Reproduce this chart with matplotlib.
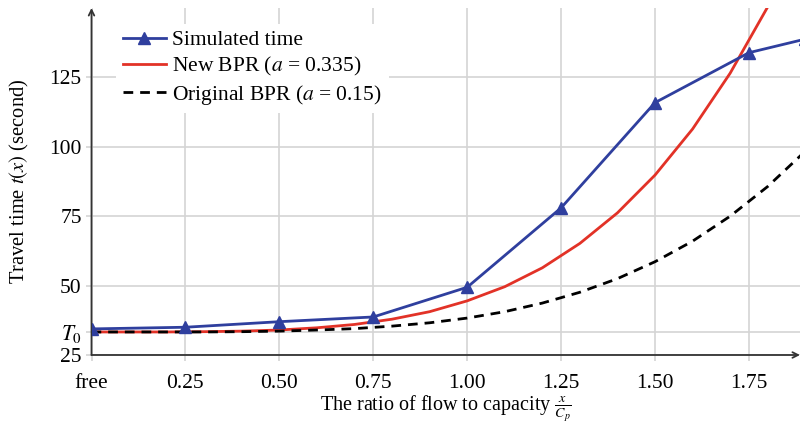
'''
Travel time vs. flow/capacity ratio: simulated vs. BPR curves
'''
import matplotlib
matplotlib.use('Agg')
import matplotlib.pyplot as plt

# Simulated travel time
sim_x = [0.0, 0.25, 0.50, 0.75, 1.00, 1.25, 1.50, 1.75, 1.90]
sim_t = [34.4, 35.0, 37.0, 38.7, 49.4, 78.0, 115.9, 133.9, 138.8]

# BPR curves, sampled every 0.1
bpr_x = [0.0, 0.1, 0.2, 0.3, 0.4, 0.5, 0.6, 0.7, 0.8, 0.9,
         1.0, 1.1, 1.2, 1.3, 1.4, 1.5, 1.6, 1.7, 1.8, 1.9]
new_bpr = [33.3, 33.3, 33.3, 33.4, 33.6, 34.0, 34.8, 36.0, 37.9, 40.6,
           44.5, 49.6, 56.4, 65.2, 76.2, 89.8, 106.4, 126.5, 150.4, 178.7]
orig_bpr = [33.3, 33.3, 33.3, 33.3, 33.4, 33.6, 34.0, 34.5, 35.4, 36.6,
            38.3, 40.6, 43.7, 47.6, 52.5, 58.6, 66.0, 75.0, 85.7, 98.4]

T0 = 33.3
y_ticks = [25, T0, 50, 75, 100, 125]
y_labels = ['25', '$T_0$', '50', '75', '100', '125']
x_ticks = [0, 0.25, 0.5, 0.75, 1.0, 1.25, 1.5, 1.75]
x_labels = ['free', '0.25', '0.50', '0.75', '1.00', '1.25', '1.50', '1.75']

plt.rcParams['font.family'] = ['Liberation Serif', 'DejaVu Serif']
plt.rcParams['mathtext.fontset'] = 'stix'

fig = plt.figure(figsize=(8, 4.28), dpi=100)
ax = fig.add_axes([91.5 / 800, 73 / 428, (800 - 91.5) / 800, 347 / 428])

ax.plot(sim_x, sim_t, color='#2f3f9e', lw=2, marker='^', markersize=8,
        label='Simulated time', zorder=4)
ax.plot(bpr_x, new_bpr, color='#e23227', lw=2,
        label='New BPR ($a$ = 0.335)', zorder=3)
ax.plot(bpr_x, orig_bpr, color='black', lw=2, ls=(0, (3.5, 2.5)),
        label='Original BPR ($a$ = 0.15)', zorder=3)

ax.set_xlim(0, 1.886)
ax.set_ylim(25, 150)
ax.set_xticks(x_ticks)
ax.set_xticklabels(x_labels)
ax.set_yticks(y_ticks)
ax.set_yticklabels(y_labels)
ax.tick_params(length=4, width=1.2, color='#d4d4d4', labelsize=15.5)
ax.tick_params(axis='x', pad=10)
ax.tick_params(axis='y', pad=3)
ax.grid(True, color='#d4d4d4', lw=1.2)
ax.set_axisbelow(True)

for side in ['top', 'right', 'left', 'bottom']:
    ax.spines[side].set_visible(False)

# Axis lines with arrow heads
arrow = dict(arrowstyle='->', color='#333333', lw=1.3, shrinkA=0, shrinkB=0)
ax.annotate('', xy=(0, 1.0), xytext=(0, 0), xycoords='axes fraction',
            arrowprops=arrow, annotation_clip=False)
ax.annotate('', xy=(1.0, 0), xytext=(0, 0), xycoords='axes fraction',
            arrowprops=arrow, annotation_clip=False)

ax.set_xlabel(r'The ratio of flow to capacity $\frac{x}{C_p}$', fontsize=14.5, labelpad=0)
ax.set_ylabel('Travel time $t(x)$ (second)', fontsize=14.8, labelpad=13)

leg = ax.legend(loc='upper left', bbox_to_anchor=(0.02, 0.985), fontsize=15.5,
                frameon=True, facecolor='white', edgecolor='none', framealpha=1,
                handlelength=2.0, handletextpad=0.3, labelspacing=0.22,
                borderpad=0.3)

fig.savefig('out.png', dpi=100)
